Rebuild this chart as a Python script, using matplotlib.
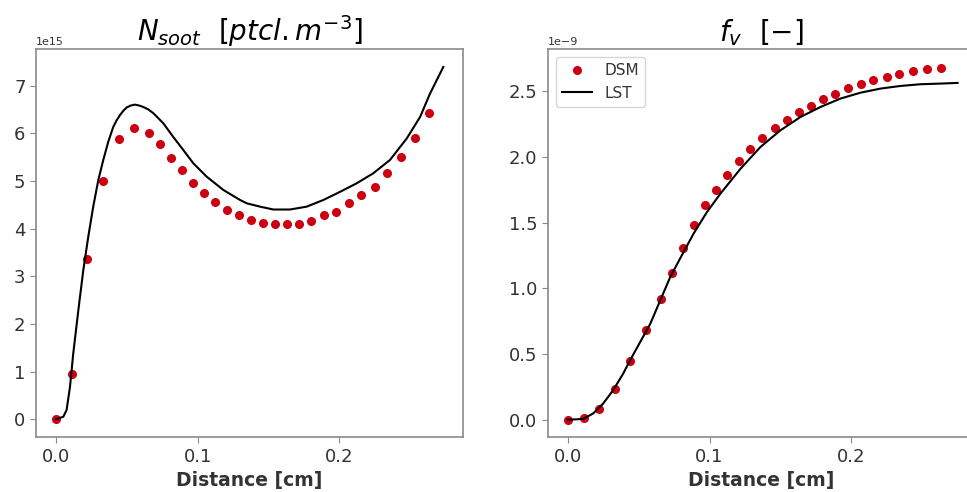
import numpy as np
import matplotlib
matplotlib.use("Agg")
import matplotlib.pyplot as plt

# ---- data ----
dist_dsm = [0, 0.0114, 0.0221, 0.0332, 0.0442, 0.055, 0.0658, 0.0735, 0.0811, 0.0889,
            0.0968, 0.1046, 0.1125, 0.1205, 0.1288, 0.1373, 0.1461, 0.1543, 0.1628, 0.1713,
            0.18, 0.1888, 0.1979, 0.2066, 0.2155, 0.2248, 0.2339, 0.2438, 0.2533, 0.2633]
nsoot_dsm = [0, 0.96, 3.37, 5.00, 5.87, 6.11, 6.01, 5.77, 5.48, 5.22,
             4.95, 4.75, 4.55, 4.39, 4.28, 4.18, 4.12, 4.09, 4.10, 4.10,
             4.16, 4.28, 4.35, 4.53, 4.70, 4.88, 5.17, 5.51, 5.91, 6.43]  # x1e15
fv_dsm = [0, 0.0125, 0.081, 0.233, 0.444, 0.680, 0.921, 1.12, 1.305, 1.48,
          1.635, 1.75, 1.863, 1.967, 2.064, 2.145, 2.219, 2.282, 2.341, 2.391,
          2.44, 2.483, 2.523, 2.559, 2.587, 2.612, 2.635, 2.655, 2.668, 2.678]  # x1e-9

dist_lst_n = [0, 0.0052, 0.0075, 0.0099, 0.0122, 0.0158, 0.0193, 0.0228, 0.0263, 0.0299,
              0.0334, 0.0369, 0.0404, 0.0428, 0.0452, 0.0475, 0.0499, 0.0527, 0.0557, 0.0588,
              0.0616, 0.0651, 0.0687, 0.0757, 0.0828, 0.0898, 0.0969, 0.1063, 0.1181, 0.1299,
              0.1346, 0.144, 0.1534, 0.1651, 0.1769, 0.1887, 0.2004, 0.2122, 0.2239, 0.2357,
              0.2475, 0.2569, 0.2639, 0.2733]
nsoot_lst = [0, 0.055, 0.195, 0.68, 1.38, 2.29, 3.13, 3.83, 4.46, 5.02,
             5.44, 5.82, 6.13, 6.27, 6.38, 6.47, 6.54, 6.58, 6.60, 6.58,
             6.55, 6.50, 6.42, 6.21, 5.92, 5.65, 5.37, 5.09, 4.81, 4.60,
             4.53, 4.46, 4.40, 4.40, 4.46, 4.60, 4.77, 4.95, 5.16, 5.44,
             5.89, 6.34, 6.83, 7.39]  # x1e15

dist_lst_f = [0, 0.005, 0.0108, 0.0179, 0.025, 0.032, 0.0391, 0.044, 0.0582, 0.0723,
              0.0817, 0.0888, 0.0982, 0.1077, 0.1218, 0.1359, 0.15, 0.1642, 0.1783, 0.1924,
              0.2066, 0.2207, 0.2348, 0.2489, 0.2631, 0.2749]
fv_lst = [0, 0.001, 0.005, 0.046, 0.122, 0.223, 0.35, 0.452, 0.729, 1.086,
          1.276, 1.417, 1.581, 1.721, 1.91, 2.076, 2.203, 2.305, 2.381, 2.445,
          2.49, 2.521, 2.541, 2.554, 2.559, 2.564]  # x1e-9

N_SCALE = 1e15
F_SCALE = 1e-9

# ---- style ----
plt.rcParams['font.family'] = ['DejaVu Sans']
spine_col = '#8a8a8a'
text_col = '#333333'
dot_col = '#cc0010'

fig = plt.figure(figsize=(9.67, 4.92), dpi=100)
ax1 = fig.add_axes([0.0372, 0.1112, 0.4419, 0.7886])
ax2 = fig.add_axes([0.5667, 0.1112, 0.4419, 0.7886])

ax1.plot(dist_dsm, np.array(nsoot_dsm) * N_SCALE, 'o', color=dot_col, ms=5.5, label='DSM')
ax1.plot(dist_lst_n, np.array(nsoot_lst) * N_SCALE, '-', color='black', lw=1.5, label='LST')
ax2.plot(dist_dsm, np.array(fv_dsm) * F_SCALE, 'o', color=dot_col, ms=5.5, label='DSM')
ax2.plot(dist_lst_f, np.array(fv_lst) * F_SCALE, '-', color='black', lw=1.5, label='LST')

ax1.set_xlim(-0.0141, 0.2874)
ax1.set_ylim(-0.377e15, 7.76e15)
ax2.set_xlim(-0.0139, 0.2874)
ax2.set_ylim(-0.135e-9, 2.82e-9)

ax1.set_xticks([0.0, 0.1, 0.2])
ax2.set_xticks([0.0, 0.1, 0.2])
ax1.set_yticks(np.arange(0, 8) * 1e15)
ax2.set_yticks(np.arange(0, 2.6, 0.5) * 1e-9)

for ax in (ax1, ax2):
    for s in ax.spines.values():
        s.set_color(spine_col)
        s.set_linewidth(1.2)
    ax.tick_params(colors=spine_col, labelcolor=text_col, labelsize=13, length=4)
    ax.set_xlabel('Distance [cm]', fontsize=13.5, fontweight='bold', color=text_col)
    ax.yaxis.get_offset_text().set_fontsize(8)
    ax.yaxis.get_offset_text().set_color(text_col)

ax1.set_title(r'$N_{soot}\ \ [ptcl.m^{-3}]$', fontsize=20)
ax2.set_title(r'$f_v\ \ [-]$', fontsize=20)

ax2.legend(loc='upper left', fontsize=11, numpoints=1, labelcolor=text_col)

fig.savefig('out.png', dpi=100)
